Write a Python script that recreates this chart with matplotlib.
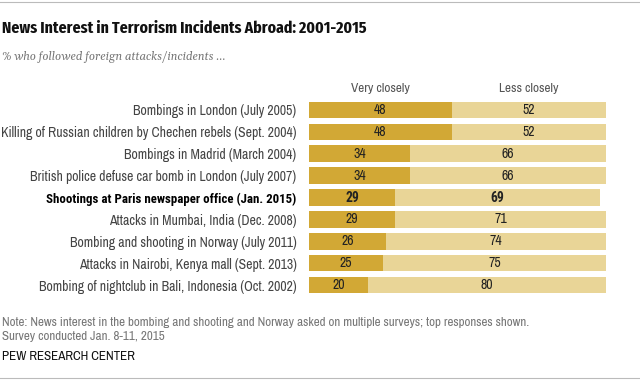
import matplotlib
matplotlib.use("Agg")
from matplotlib import pyplot as plt

# Data
incidents = [
    "Bombings in London (July 2005)",
    "Killing of Russian children by Chechen rebels (Sept. 2004)",
    "Bombings in Madrid (March 2004)",
    "British police defuse car bomb in London (July 2007)",
    "Shootings at Paris newspaper office (Jan. 2015)",
    "Attacks in Mumbai, India (Dec. 2008)",
    "Bombing and shooting in Norway (July 2011)",
    "Attacks in Nairobi, Kenya mall (Sept. 2013)",
    "Bombing of nightclub in Bali, Indonesia (Oct. 2002)",
]
very_closely = [48, 48, 34, 34, 29, 29, 26, 25, 20]
less_closely = [52, 52, 66, 66, 69, 71, 74, 75, 80]
highlight = "Shootings at Paris newspaper office (Jan. 2015)"

dark = "#D2A835"
light = "#E9D597"
narrow = ["Archivo Narrow", "PT Sans Narrow", "DejaVu Sans"]
narrow_bold = ["Roboto Condensed", "PT Sans Narrow", "DejaVu Sans"]
title_font = ["Fira Sans Extra Condensed", "Roboto Condensed", "DejaVu Sans"]
serif = ["Gelasio", "Liberation Serif", "DejaVu Serif"]

plt.rcParams["font.family"] = narrow

fig = plt.figure(figsize=(6.4, 3.85), dpi=100)
ax = fig.add_axes([309 / 640, 1 - 296 / 385, 297 / 640, 197 / 385])

rows = list(range(len(incidents)))
ax.barh(rows, very_closely, height=0.76, color=dark, edgecolor="none")
ax.barh(rows, less_closely, left=very_closely, height=0.76, color=light, edgecolor="none")

for i, (v, l) in enumerate(zip(very_closely, less_closely)):
    if incidents[i] == highlight:
        kw = dict(weight="bold", family=narrow_bold, fontsize=9.8)
    else:
        kw = dict(fontsize=10)
    ax.text(v / 2, i, str(v), ha="center", va="center", color="#222222", **kw)
    ax.text(v + l / 2, i, str(l), ha="center", va="center", color="#222222", **kw)

ax.set_xlim(0, 100)
ax.set_ylim(len(incidents) - 0.5, -0.5)
ax.set_yticks(rows)
ax.set_yticklabels(incidents, fontsize=9.9, color="#444444")
for lab in ax.get_yticklabels():
    if lab.get_text() == highlight:
        lab.set_fontweight("bold")
        lab.set_family(narrow_bold)
        lab.set_fontsize(9.3)
        lab.set_color("#000000")
ax.tick_params(axis="y", length=0, pad=9)
ax.set_xticks([])
for s in ax.spines.values():
    s.set_visible(False)

# column headers
ax.text(24, -1.0, "Very closely", ha="center", va="center", fontsize=9.6, color="#555555")
ax.text(74, -1.0, "Less closely", ha="center", va="center", fontsize=9.6, color="#555555")

# title, subtitle, notes
fig.text(2 / 640, 1 - 28 / 385, "News Interest in Terrorism Incidents Abroad: 2001-2015",
         fontsize=12.3, weight="bold", color="#111111", va="center", family=title_font)
fig.text(2 / 640, 1 - 57 / 385, "% who followed foreign attacks/incidents ...",
         fontsize=8.2, style="italic", color="#777777", va="center", family=serif)
fig.text(2 / 640, 1 - 322 / 385,
         "Note: News interest in the bombing and shooting and Norway asked on multiple surveys; top responses shown.",
         fontsize=9.4, color="#777777", va="center")
fig.text(2 / 640, 1 - 337 / 385, "Survey conducted Jan. 8-11, 2015",
         fontsize=9.4, color="#777777", va="center")
fig.text(2 / 640, 1 - 356 / 385, "PEW RESEARCH CENTER",
         fontsize=9.4, color="#111111", va="center")

# thin rules top and bottom
fig.add_artist(plt.Line2D([0, 1], [1 - 2 / 385, 1 - 2 / 385], color="#BBBBBB", lw=0.8))
fig.add_artist(plt.Line2D([0, 1], [1 - 378 / 385, 1 - 378 / 385], color="#BBBBBB", lw=0.8))

fig.savefig("out.png", dpi=100)
